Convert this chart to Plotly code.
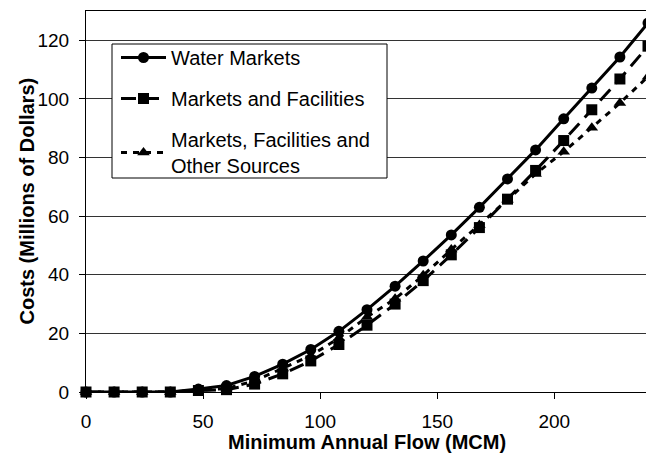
import plotly.graph_objects as go

flow = [0, 12, 24, 36, 48, 60, 72, 84, 96, 108, 120, 132, 144, 156, 168, 180, 192, 204, 216, 228, 240]
water_markets = [0, 0, 0, 0, 1.0, 2.2, 5.3, 9.5, 14.5, 20.7, 28.1, 36.1, 44.7, 53.6, 63.0, 72.7, 82.6, 93.2, 103.7, 114.3, 125.9]
markets_facilities = [0, 0, 0, 0, 0.5, 0.8, 2.7, 6.2, 10.6, 16.2, 22.8, 30.0, 38.0, 46.8, 56.1, 65.8, 75.6, 85.8, 96.3, 106.8, 118.0]
markets_fac_other = [0, 0, 0, 0, 0.6, 1.2, 3.8, 8.0, 12.4, 18.4, 25.6, 31.8, 39.8, 48.6, 57.0, 65.6, 74.4, 82.0, 90.2, 98.6, 107.6]

series_names = ["Water Markets", "Markets and Facilities", "Markets, Facilities and<br>Other Sources"]
x_ticks = [0, 50, 100, 150, 200]
y_ticks = [0, 20, 40, 60, 80, 100, 120]

FONT = "Liberation Sans, Arial, sans-serif"

# page body has an 8px margin: figure is placed at (8, 8) in the window
OFF = 8
PL, PR, PT, PB = 86, 648, 11, 392   # plot area in window pixels
W, H = 654 - OFF, 457 - OFF
pw, ph = PR - PL, PB - PT

def px(xw):
    return (xw - PL) / pw

def py(yw):
    return (PB - yw) / ph

fig = go.Figure()
fig.add_trace(go.Scatter(
    x=flow, y=water_markets, name=series_names[0], legendgroup="a",
    mode="lines+markers", line=dict(color="black", width=3, dash="solid"),
    marker=dict(symbol="circle", size=11, color="black"), cliponaxis=False))
fig.add_trace(go.Scatter(
    x=flow, y=markets_facilities, name=series_names[1], legendgroup="b",
    mode="lines+markers", line=dict(color="black", width=3, dash="15px,8px"),
    marker=dict(symbol="square", size=11, color="black"), cliponaxis=False))
fig.add_trace(go.Scatter(
    x=flow, y=markets_fac_other, name=series_names[2], legendgroup="c",
    mode="lines+markers", line=dict(color="black", width=3, dash="6px,6px"),
    marker=dict(symbol="triangle-up", size=11, color="black"), cliponaxis=False))

fig.update_layout(
    width=W, height=H,
    margin=dict(l=PL - OFF, r=W - (PR - OFF), t=PT - OFF, b=H - (PB - OFF)),
    paper_bgcolor="white", plot_bgcolor="white",
    font=dict(family=FONT, size=19, color="black"),
    showlegend=True,
    legend=dict(
        x=px(116), y=py(38), xanchor="left", yanchor="top",
        bgcolor="rgba(0,0,0,0)", borderwidth=0,
        font=dict(family=FONT, size=20, color="black"),
        tracegroupgap=12, itemwidth=45, traceorder="grouped",
    ),
    shapes=[
        dict(type="rect", xref="paper", yref="paper", layer="above",
             x0=px(112), x1=px(387), y0=py(178), y1=py(44),
             line=dict(color="black", width=1), fillcolor="white"),
    ],
    annotations=[
        dict(text="<b>Minimum Annual Flow (MCM)</b>", xref="paper", yref="paper",
             x=0.5, y=py(442), xanchor="center", yanchor="middle",
             showarrow=False, font=dict(family=FONT, size=20, color="black")),
        dict(text="<b>Costs (Millions of Dollars)</b>", xref="paper", yref="paper",
             x=px(26), y=0.5, xanchor="center", yanchor="middle",
             textangle=-90, showarrow=False, font=dict(family=FONT, size=20, color="black")),
    ],
)
fig.update_xaxes(
    range=[0, 240], tickvals=x_ticks, ticks="outside", ticklen=6, tickwidth=1,
    tickcolor="black", showgrid=False, zeroline=False,
    showline=True, linecolor="black", linewidth=1, mirror=True,
    ticklabelstandoff=6, tickfont=dict(family=FONT, size=19, color="black"))
fig.update_yaxes(
    range=[0, 130], tickvals=y_ticks, ticks="outside", ticklen=6, tickwidth=1,
    tickcolor="black", showgrid=True, gridcolor="#333333", gridwidth=1, zeroline=False,
    showline=True, linecolor="black", linewidth=1, mirror=True,
    ticklabelstandoff=6, tickfont=dict(family=FONT, size=19, color="black"))

fig.write_html("out.html")
